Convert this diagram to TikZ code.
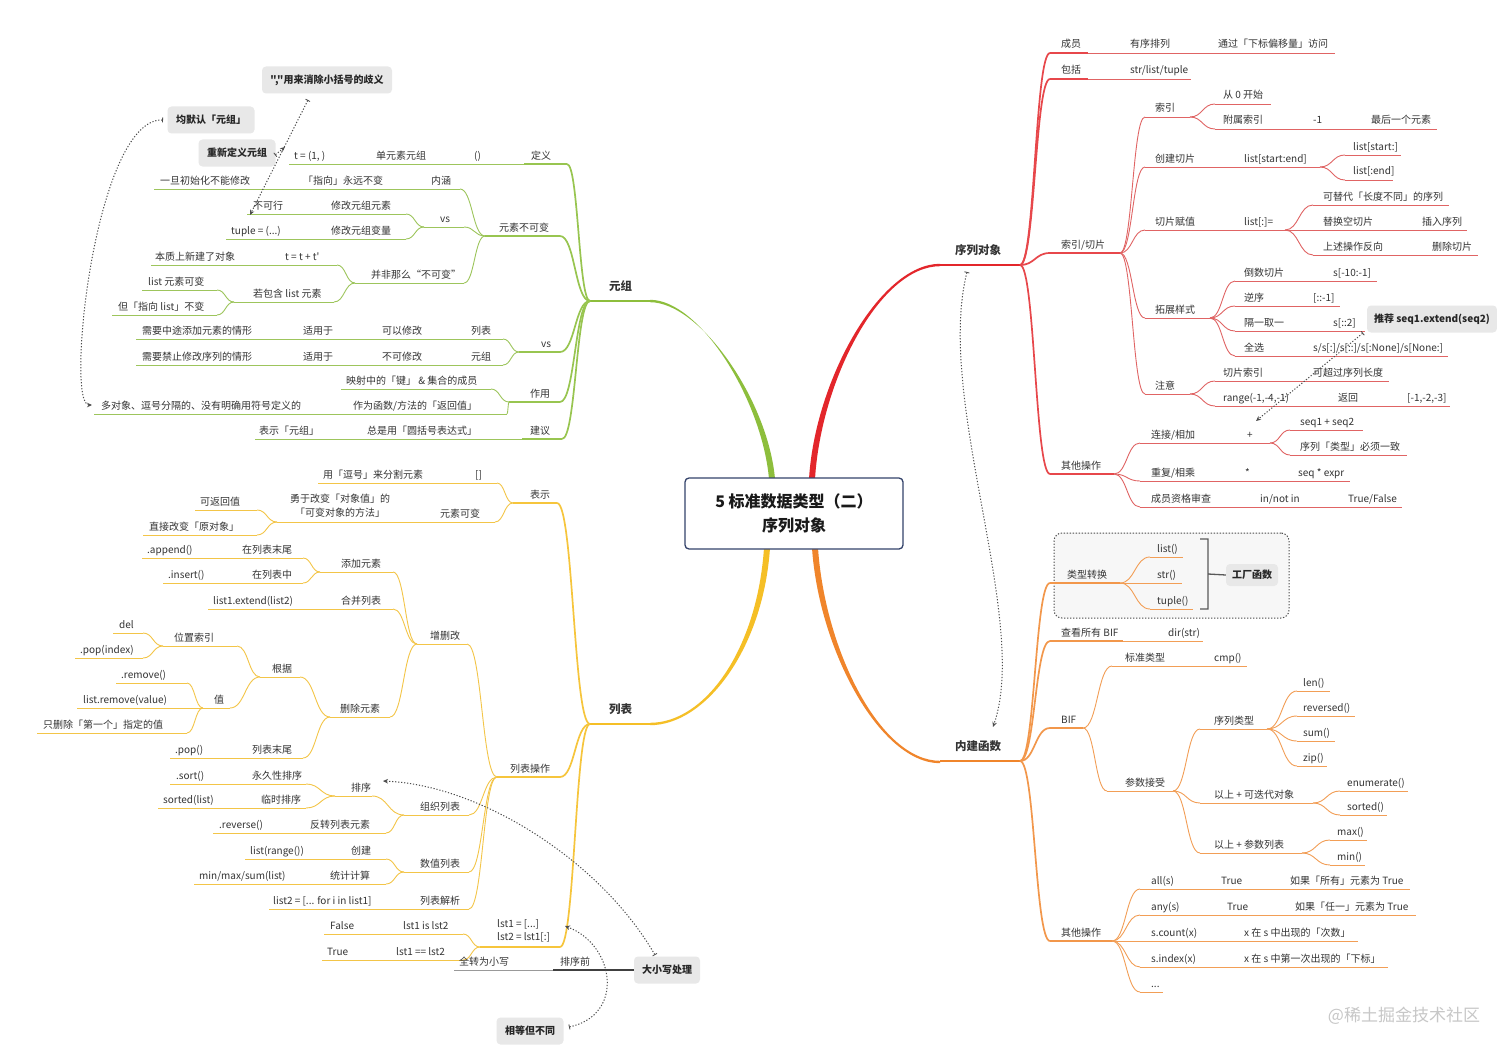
\documentclass[tikz,border=0pt]{standalone}
\usepackage{fontspec}
\setmainfont{Noto Sans CJK SC}
\newfontfamily\rawfont{Noto Sans CJK SC}[Ligatures=TeXOff]
\usetikzlibrary{arrows.meta,calc}
\definecolor{txt}{HTML}{333333}
\definecolor{cR}{HTML}{E3262B}
\definecolor{cRl}{HTML}{E06464}
\definecolor{cG}{HTML}{8DBE3C}
\definecolor{cGl}{HTML}{9DC55C}
\definecolor{cY}{HTML}{F5BF26}
\definecolor{cYl}{HTML}{F3C548}
\definecolor{cO}{HTML}{F0852B}
\definecolor{cOl}{HTML}{F29E56}
\definecolor{cfill}{HTML}{E8E8E8}
\definecolor{navy}{HTML}{34436B}
\newcommand\fs{\fontsize{10}{12}\selectfont}
\newcommand\N[5][cn]{\coordinate (#2-a) at (#3,#5);\coordinate (#2-b) at (#4,#5);\draw[#1] (#2-a) -- (#2-b);}
\newcommand\T[4]{\node[tx] (#1) at (#2,#3) {#4};}
\newcommand\C[3][cn]{\path (#2) -- (#3) coordinate[pos=0.5] (cm);\draw[#1] (#2) .. controls (cm |- #2) and (cm |- #3) .. (#3);}
\begin{document}
\begin{tikzpicture}[x=1pt,y=-1pt,
  tx/.style={anchor=base west, inner sep=0pt, yshift=5pt, font=\fs, text=txt},
  mtx/.style={anchor=base west, inner sep=0pt, yshift=11pt, font=\fontsize{11.5}{13}\selectfont\bfseries, text=txt},
  co/.style={fill=cfill, rounded corners=4pt, inner xsep=7pt, inner ysep=0pt, minimum height=27pt, font=\fs\bfseries, text=black!85},
  rel/.style={draw=black!70, line width=1pt, dash pattern=on 1.2pt off 1.8pt, {Bar[width=5pt,line width=0.8pt]}-{Stealth[length=5pt,width=4.5pt]}},
  cn/.style={draw=gray, line width=0.9pt}]
\fill[white] (0,0) rectangle (1512,1054);
\useasboundingbox (0,0) rectangle (1512,1054);

% ---------- main trunks ----------
\fill[cG] (769,479) .. controls (762,400) and (700,299.8) .. (650,299.8) -- (650,302.2) .. controls (700,302.2) and (768,400) .. (775,479) -- cycle;
\fill[cR] (809,479) .. controls (815,380) and (880,263.8) .. (940,263.8) -- (940,266.2) .. controls (880,266.2) and (821,380) .. (815,479) -- cycle;
\fill[cY] (764,548) .. controls (757,650) and (705,722.8) .. (650,722.8) -- (650,725.2) .. controls (705,725.2) and (763,650) .. (770,548) -- cycle;
\fill[cO] (812,548) .. controls (819,650) and (880,763.2) .. (940,763.2) -- (940,760.8) .. controls (880,760.8) and (825,650) .. (818,548) -- cycle;
\node[draw=navy, line width=1.3pt, rounded corners=4pt, fill=white, minimum width=218pt, minimum height=71pt, align=center, inner sep=0pt, font=\fontsize{16}{24}\selectfont\bfseries, text=black!90] (root) at (794,513.5) {5 标准数据类型（二）\\序列对象};

% ---------- RED ----------
\begin{scope}[cn/.style={draw=cRl,line width=0.9pt}, c1/.style={draw=cR!85!white,line width=1.7pt}, c0/.style={draw=cR,line width=2.4pt}]
\N[c0]{sq}{940}{1020}{265}\node[mtx] (sqt) at (955,265) {序列对象};
\N{cy}{1050}{1335}{53}\draw[c1] (cy-a) -- +(38,0);
\T{cyt1}{1061}{53}{成员}\T{cyt2}{1130}{53}{有序排列}\T{cyt3}{1218}{53}{通过「下标偏移量」访问}
\N{bk}{1050}{1191}{79}\draw[c1] (bk-a) -- +(38,0);
\T{bkt1}{1061}{79}{包括}\T{bkt2}{1130}{79}{str/list/tuple}
\N[c1]{sy}{1050}{1120}{253}\T{syt}{1061}{253}{索引/切片}
\N[c1]{qt}{1050}{1114}{474}\T{qtt}{1061}{474}{其他操作}
\C[c1]{sq-b}{cy-a}\C[c1]{sq-b}{bk-a}\C[c1]{sq-b}{sy-a}\C[c1]{sq-b}{qt-a}
\N{syi}{1145}{1190}{117}\T{syit}{1155}{117}{索引}
\N{cj}{1145}{1320}{167}\T{cjt1}{1155}{167}{创建切片}\T{cjt2}{1244}{167}{list[start:end]}
\N{fz}{1145}{1285}{230}\T{fzt1}{1155}{230}{切片赋值}\T{fzt2}{1244}{230}{list[:]=}
\N{tz}{1145}{1210}{318}\T{tzt}{1155}{318}{拓展样式}
\N{zy}{1145}{1190}{394}\T{zyt}{1155}{394}{注意}
\C{sy-b}{syi-a}\C{sy-b}{cj-a}\C{sy-b}{fz-a}\C{sy-b}{tz-a}\C{sy-b}{zy-a}
\N{s0}{1215}{1271}{104}\T{s0t}{1223}{104}{从 0 开始}
\N{s1}{1215}{1437}{129}\T{s1t1}{1223}{129}{附属索引}\T{s1t2}{1313}{129}{-1}\T{s1t3}{1371}{129}{最后一个元素}
\C{syi-b}{s0-a}\C{syi-b}{s1-a}
\N{cj1}{1345}{1401}{155}\T{cj1t}{1353}{155}{list[start:]}
\N{cj2}{1345}{1393}{180}\T{cj2t}{1353}{180}{list[:end]}
\C{cj-b}{cj1-a}\C{cj-b}{cj2-a}
\N{fz1}{1313}{1449}{205}\T{fz1t}{1323}{205}{可替代「长度不同」的序列}
\N{fz2}{1313}{1467}{230}\T{fz2t1}{1323}{230}{替换空切片}\T{fz2t2}{1422}{230}{插入序列}
\N{fz3}{1313}{1478}{255}\T{fz3t1}{1323}{255}{上述操作反向}\T{fz3t2}{1432}{255}{删除切片}
\C{fz-b}{fz1-a}\C{fz-b}{fz2-a}\C{fz-b}{fz3-a}
\N{tz1}{1235}{1377}{281}\T{tz1t1}{1244}{281}{倒数切片}\T{tz1t2}{1333}{281}{s[-10:-1]}
\N{tz2}{1235}{1340}{306}\T{tz2t1}{1244}{306}{逆序}\T{tz2t2}{1313}{306}{[::-1]}
\N{tz3}{1235}{1365}{331}\T{tz3t1}{1244}{331}{隔一取一}\T{tz3t2}{1333}{331}{s[::2]}
\N{tz4}{1235}{1448}{356}\T{tz4t1}{1244}{356}{全选}\T{tz4t2}{1313}{356}{s/s[:]/s[::]/s[:None]/s[None:]}
\C{tz-b}{tz1-a}\C{tz-b}{tz2-a}\C{tz-b}{tz3-a}\C{tz-b}{tz4-a}
\N{zy1}{1215}{1389}{381}\T{zy1t1}{1223}{381}{切片索引}\T{zy1t2}{1313}{381}{可超过序列长度}
\N{zy2}{1215}{1450}{406}\T{zy2t1}{1223}{406}{range(-1,-4,-1)}\T{zy2t2}{1338}{406}{返回}\T{zy2t3}{1407}{406}{[-1,-2,-3]}
\C{zy-b}{zy1-a}\C{zy-b}{zy2-a}
\N{lj}{1140}{1270}{443}\T{ljt1}{1151}{443}{连接/相加}\T{ljt2}{1247}{443}{+}
\N{cf}{1140}{1350}{481}\T{cft1}{1151}{481}{重复/相乘}\T{cft2}{1245}{481}{*}\T{cft3}{1298}{481}{seq * expr}
\N{zg}{1140}{1402}{507}\T{zgt1}{1151}{507}{成员资格审查}\T{zgt2}{1260}{507}{in/not in}\T{zgt3}{1348}{507}{True/False}
\C{qt-b}{lj-a}\C{qt-b}{cf-a}\C{qt-b}{zg-a}
\N{lj1}{1290}{1363}{430}\T{lj1t}{1300}{430}{seq1 + seq2}
\N{lj2}{1290}{1407}{455}\T{lj2t}{1300}{455}{序列「类型」必须一致}
\C{lj-b}{lj1-a}\C{lj-b}{lj2-a}
\end{scope}
\node[co] (tjc) at (1432,319) {推荐 seq1.extend(seq2)};

% ---------- ORANGE ----------
\begin{scope}[cn/.style={draw=cOl,line width=0.9pt}, c1/.style={draw=cO!85!white,line width=1.7pt}, c0/.style={draw=cO,line width=2.4pt}]
\node[draw=black!70, dash pattern=on 1.3pt off 1.7pt, line width=1pt, rounded corners=8pt, fill=black!3, minimum width=235pt, minimum height=85pt, inner sep=0pt] (bx) at (1171.5,575.5) {};
\N[c0]{nz}{940}{1020}{761}\node[mtx] (nzt) at (955,761) {内建函数};
\N[c1]{lx}{1050}{1120}{583}\T{lxt}{1067}{583}{类型转换}
\N{ck}{1050}{1203}{641}\draw[c1] (ck-a) -- +(73,0);
\T{ckt1}{1061}{641}{查看所有 BIF}\T{ckt2}{1168}{641}{dir(str)}
\N[c1]{bif}{1050}{1083}{728}\T{bift}{1061}{728}{BIF}
\N[c1]{qo}{1050}{1112}{941}\T{qot}{1061}{941}{其他操作}
\C[c1]{nz-b}{lx-a}\C[c1]{nz-b}{ck-a}\C[c1]{nz-b}{bif-a}\C[c1]{nz-b}{qo-a}
\N{l1}{1150}{1183}{557}\T{l1t}{1157}{557}{list()}
\N{l2}{1150}{1182}{583}\T{l2t}{1157}{583}{str()}
\N{l3}{1150}{1193}{609}\T{l3t}{1157}{609}{tuple()}
\C{lx-b}{l1-a}\C{lx-b}{l2-a}\C{lx-b}{l3-a}
\node[co, minimum height=22pt, inner xsep=6pt] (gc) at (1252,575) {工厂函数};
\draw[black!65, line width=1.3pt] (1200,539) -- (1208,539) -- (1208,609) -- (1200,609) (1208,574) -- (gc.west);
\N{bz}{1112}{1247}{666}\T{bzt1}{1125}{666}{标准类型}\T{bzt2}{1214}{666}{cmp()}
\N{cs}{1107}{1173}{791}\T{cst}{1125}{791}{参数接受}
\C{bif-b}{bz-a}\C{bif-b}{cs-a}
\N{xl}{1200}{1267}{729}\T{xlt}{1214}{729}{序列类型}
\N{kd}{1200}{1313}{803}\T{kdt}{1214}{803}{以上 + 可迭代对象}
\N{cl}{1200}{1302}{853}\T{clt}{1214}{853}{以上 + 参数列表}
\C{cs-b}{xl-a}\C{cs-b}{kd-a}\C{cs-b}{cl-a}
\N{x1}{1297}{1330}{691}\T{x1t}{1303}{691}{len()}
\N{x2}{1297}{1355}{716}\T{x2t}{1303}{716}{reversed()}
\N{x3}{1297}{1335}{741}\T{x3t}{1303}{741}{sum()}
\N{x4}{1297}{1327}{766}\T{x4t}{1303}{766}{zip()}
\C{xl-b}{x1-a}\C{xl-b}{x2-a}\C{xl-b}{x3-a}\C{xl-b}{x4-a}
\N{k1}{1340}{1408}{791}\T{k1t}{1347}{791}{enumerate()}
\N{k2}{1340}{1387}{815}\T{k2t}{1347}{815}{sorted()}
\C{kd-b}{k1-a}\C{kd-b}{k2-a}
\N{m1}{1330}{1367}{840}\T{m1t}{1337}{840}{max()}
\N{m2}{1330}{1365}{865}\T{m2t}{1337}{865}{min()}
\C{cl-b}{m1-a}\C{cl-b}{m2-a}
\N{a1}{1140}{1410}{889}\T{a1t1}{1151}{889}{all(s)}\T{a1t2}{1221}{889}{True}\T{a1t3}{1290}{889}{如果「所有」元素为 True}
\N{a2}{1140}{1416}{915}\T{a2t1}{1151}{915}{any(s)}\T{a2t2}{1227}{915}{True}\T{a2t3}{1295}{915}{如果「任一」元素为 True}
\N{a3}{1140}{1358}{941}\T{a3t1}{1151}{941}{s.count(x)}\T{a3t2}{1244}{941}{x 在 s 中出现的「次数」}
\N{a4}{1140}{1388}{967}\T{a4t1}{1151}{967}{s.index(x)}\T{a4t2}{1244}{967}{x 在 s 中第一次出现的「下标」}
\N{a5}{1140}{1163}{992}\T{a5t}{1151}{992}{...}
\C{qo-b}{a1-a}\C{qo-b}{a2-a}\C{qo-b}{a3-a}\C{qo-b}{a4-a}\C{qo-b}{a5-a}
\end{scope}

% ---------- GREEN ----------
\begin{scope}[cn/.style={draw=cGl,line width=0.9pt}, c1/.style={draw=cG!90!white,line width=1.7pt}, c0/.style={draw=cG,line width=2.4pt}]
\N[c0]{yz}{590}{650}{301}\node[mtx] (yzt) at (609,301) {元组};
\N{dy}{289}{567}{164}\draw[c1] (dy-b) -- +(-43,0);
\T{dyt1}{294}{164}{t = (1, )}\T{dyt2}{376}{164}{单元素元组}\T{dyt3}{474}{164}{()}\T{dyt4}{531}{164}{定义}
\N[c1]{bk2}{485}{560}{236}\T{bk2t}{499}{236}{元素不可变}
\N[c1]{vs2}{519}{560}{352}\T{vs2t}{541}{352}{vs}
\N[c1]{zyg}{509}{560}{402}\T{zygt}{530}{402}{作用}
\N{jy}{255}{562}{439}\draw[c1] (jy-b) -- +(-40,0);
\T{jyt1}{259}{439}{表示「元组」}\T{jyt2}{367}{439}{总是用「圆括号表达式」}\T{jyt3}{530}{439}{建议}
\C[c1]{yz-a}{dy-b}\C[c1]{yz-a}{bk2-b}\C[c1]{yz-a}{vs2-b}\C[c1]{yz-a}{zyg-b}\C[c1]{yz-a}{jy-b}
\N{nh}{154}{460}{189}\T{nht1}{160}{189}{一旦初始化不能修改}\T{nht2}{303}{189}{「指向」永远不变}\T{nht3}{431}{189}{内涵}
\N{vs1}{424}{464}{227}\T{vs1t}{440}{227}{vs}
\N{bf}{355}{464}{283}\T{bft}{371}{283}{并非那么“不可变”}
\C{bk2-a}{nh-b}\C{bk2-a}{vs1-b}\C{bk2-a}{bf-b}
\N{bkx}{247}{406}{214}\T{bkxt1}{253}{214}{不可行}\T{bkxt2}{331}{214}{修改元组元素}
\N{tp}{226}{406}{239}\T{tpt1}{231}{239}{tuple = (...)}\T{tpt2}{331}{239}{修改元组变量}
\C{vs1-a}{bkx-b}\C{vs1-a}{tp-b}
\N{tt}{151}{337}{265}\T{ttt1}{155}{265}{本质上新建了对象}\T{ttt2}{285}{265}{\rawfont t = t + t'}
\N{bh}{234}{334}{302}\T{bht}{253}{302}{若包含 list 元素}
\C{bf-a}{tt-b}\C{bf-a}{bh-b}
\N{lb1}{142}{217}{290}\T{lb1t}{148}{290}{list 元素可变}
\N{lb2}{112}{217}{315}\T{lb2t}{118}{315}{但「指向 list」不变}
\C{bh-a}{lb1-b}\C{bh-a}{lb2-b}
\N{v1}{136}{503}{339}\T{v1t1}{142}{339}{需要中途添加元素的情形}\T{v1t2}{303}{339}{适用于}\T{v1t3}{382}{339}{可以修改}\T{v1t4}{471}{339}{列表}
\N{v2}{136}{503}{365}\T{v2t1}{142}{365}{需要禁止修改序列的情形}\T{v2t2}{303}{365}{适用于}\T{v2t3}{382}{365}{不可修改}\T{v2t4}{471}{365}{元组}
\C{vs2-a}{v1-b}\C{vs2-a}{v2-b}
\N{z1}{341}{491}{389}\T{z1t}{346}{389}{映射中的「键」 \& 集合的成员}
\N{z2}{94}{507}{414}\T{z2t1}{101}{414}{多对象、逗号分隔的、没有明确用符号定义的}\T{z2t2}{353}{414}{作为函数/方法的「返回值」}
\C{zyg-a}{z1-b}\C{zyg-a}{z2-b}
\end{scope}
\node[co, minimum width=130pt] (dh1) at (327,80) {\rawfont\bfseries ","用来消除小括号的歧义};
\node[co, minimum width=87pt] (mr) at (211,120) {均默认「元组」};
\node[co, minimum width=77pt] (cd) at (237,153) {重新定义元组};

% ---------- YELLOW ----------
\begin{scope}[cn/.style={draw=cYl,line width=0.9pt}, c1/.style={draw=cY!90!white,line width=1.7pt}, c0/.style={draw=cY,line width=2.4pt}]
\N[c0]{lb}{590}{650}{724}\node[mtx] (lbt) at (609,724) {列表};
\N[c1]{bs}{513}{557}{503}\T{bst}{530}{503}{表示}
\N[c1]{lc}{497}{560}{777}\T{lct}{510}{777}{列表操作}
\N[c1]{ls}{480}{560}{947}
\node[anchor=west, inner sep=0pt, align=left, font=\fontsize{10}{13}\selectfont, text=txt] (lst) at (497,930.5) {lst1 = [...]\\lst2 = lst1[:]};
\C[c1]{lb-a}{bs-b}\C[c1]{lb-a}{lc-b}\C[c1]{lb-a}{ls-b}
\N{dh}{318}{497}{483}\T{dht1}{323}{483}{用「逗号」来分割元素}\T{dht2}{475}{483}{[]}
\N{kb}{277}{495}{522}\T{kbt1}{440}{522}{元素可变}
\node[anchor=center, inner sep=0pt, align=center, font=\fontsize{10}{14}\selectfont, text=txt] (kbt2) at (340,506) {勇于改变「对象值」的\\「可变对象的方法」};
\C{bs-a}{dh-b}\C{bs-a}{kb-b}
\N{kf}{195}{257}{510}\T{kft}{200}{510}{可返回值}
\N{zj}{143}{257}{535}\T{zjt}{149}{535}{直接改变「原对象」}
\C{kb-a}{kf-b}\C{kb-a}{zj-b}
\N{zsg}{417}{467}{644}\T{zsgt}{430}{644}{增删改}
\N{zz}{404}{469}{815}\T{zzt}{420}{815}{组织列表}
\N{sz}{404}{469}{872}\T{szt}{420}{872}{数值列表}
\N{jx}{269}{469}{909}\T{jxt1}{273}{909}{list2 = [... for i in list1]}\T{jxt2}{420}{909}{列表解析}
\C{lc-a}{zsg-b}\C{lc-a}{zz-b}\C{lc-a}{sz-b}\C{lc-a}{jx-b}
\N{tj}{320}{393}{572}\T{tjt}{341}{572}{添加元素}
\N{hb}{208}{393}{609}\T{hbt1}{213}{609}{list1.extend(list2)}\T{hbt2}{341}{609}{合并列表}
\N{sc}{330}{390}{717}\T{sct}{340}{717}{删除元素}
\C{zsg-a}{tj-b}\C{zsg-a}{hb-b}\C{zsg-a}{sc-b}
\N{t1}{142}{303}{558}\T{t1t1}{147}{558}{.append()}\T{t1t2}{242}{558}{在列表末尾}
\N{t2}{163}{303}{583}\T{t2t1}{168}{583}{.insert()}\T{t2t2}{252}{583}{在列表中}
\C{tj-a}{t1-b}\C{tj-a}{t2-b}
\N{gj}{260}{300}{677}\T{gjt}{272}{677}{根据}
\N{mw}{170}{303}{758}\T{mwt1}{175}{758}{.pop()}\T{mwt2}{252}{758}{列表末尾}
\C{sc-a}{gj-b}\C{sc-a}{mw-b}
\N{wz}{163}{237}{646}\T{wzt}{174}{646}{位置索引}
\N{zh}{203}{230}{708}\T{zht}{214}{708}{值}
\C{gj-a}{wz-b}\C{gj-a}{zh-b}
\N{w1}{113}{143}{633}\T{w1t}{119}{633}{del}
\N{w2}{75}{143}{658}\T{w2t}{80}{658}{.pop(index)}
\C{wz-a}{w1-b}\C{wz-a}{w2-b}
\N{h1}{116}{187}{683}\T{h1t}{121}{683}{.remove()}
\N{h2}{77}{187}{708}\T{h2t}{83}{708}{list.remove(value)}
\N{h3}{37}{187}{733}\T{h3t}{43}{733}{只删除「第一个」指定的值}
\C{zh-a}{h1-b}\C{zh-a}{h2-b}\C{zh-a}{h3-b}
\N{px}{335}{372}{796}\T{pxt}{351}{796}{排序}
\N{fzl}{213}{386}{833}\T{fzlt1}{219}{833}{.reverse()}\T{fzlt2}{310}{833}{反转列表元素}
\C{zz-a}{px-b}\C{zz-a}{fzl-b}
\N{p1}{170}{306}{784}\T{p1t1}{176}{784}{.sort()}\T{p1t2}{252}{784}{永久性排序}
\N{p2}{158}{306}{808}\T{p2t1}{163}{808}{sorted(list)}\T{p2t2}{261}{808}{临时排序}
\C{px-a}{p1-b}\C{px-a}{p2-b}
\N{cn1}{245}{386}{859}\T{cn1t1}{250}{859}{list(range())}\T{cn1t2}{351}{859}{创建}
\N{cn2}{194}{386}{884}\T{cn2t1}{199}{884}{min/max/sum(list)}\T{cn2t2}{330}{884}{统计计算}
\C{sz-a}{cn1-b}\C{sz-a}{cn2-b}
\N{f1}{324}{463}{934}\T{f1t1}{330}{934}{False}\T{f1t2}{403}{934}{lst1 is lst2}
\N{f2}{322}{463}{960}\T{f2t1}{327}{960}{True}\T{f2t2}{396}{960}{lst1 == lst2}
\C{ls-a}{f1-b}\C{ls-a}{f2-b}
\end{scope}

% ---------- bottom floating topics ----------
\node[co, minimum width=66pt] (dx) at (667,970) {大小写处理};
\N[draw=black!75, line width=1.1pt]{qz}{553}{634}{970}
\N[draw=black!40, line width=1pt]{qx}{454}{553}{970}
\T{qzt}{560}{970}{排序前}\T{qxt}{459}{970}{全转为小写}
\node[co, minimum width=67pt] (xd) at (530,1031) {相等但不同};

% ---------- relationships ----------
\coordinate (r1s) at (967,272); \coordinate (r1e) at (993,727);
\draw[rel] (r1s) .. controls (935,400) and (1030,620) .. (r1e);
\coordinate (r2s) at (1363,333); \coordinate (r2e) at (1256,421);
\draw[rel] (r2s) -- (r2e);
\coordinate (r3s) at (655,955); \coordinate (r3e) at (383,781);
\draw[rel] (r3s) .. controls (600,860) and (480,785) .. (r3e);
\coordinate (r4s) at (569,1027); \coordinate (r4e) at (565,926);
\draw[rel] (r4s) .. controls (625,1015) and (615,945) .. (r4e);
\coordinate (r5s) at (163,120); \coordinate (r5e) at (92,405);
\draw[rel] (r5s) .. controls (95,118) and (65,405) .. (r5e);
\coordinate (r6s) at (308,100); \coordinate (r6e) at (250,215);
\draw[rel] (r6s) -- (r6e);
\coordinate (r7s) at (275,155); \coordinate (r7e) at (285,147);
\draw[rel] (r7s) -- (r7e);

\node[text=black!22, font=\fontsize{17}{17}\selectfont, anchor=center] (wm) at (1404,1016) {@稀土掘金技术社区};
\end{tikzpicture}
\end{document}
